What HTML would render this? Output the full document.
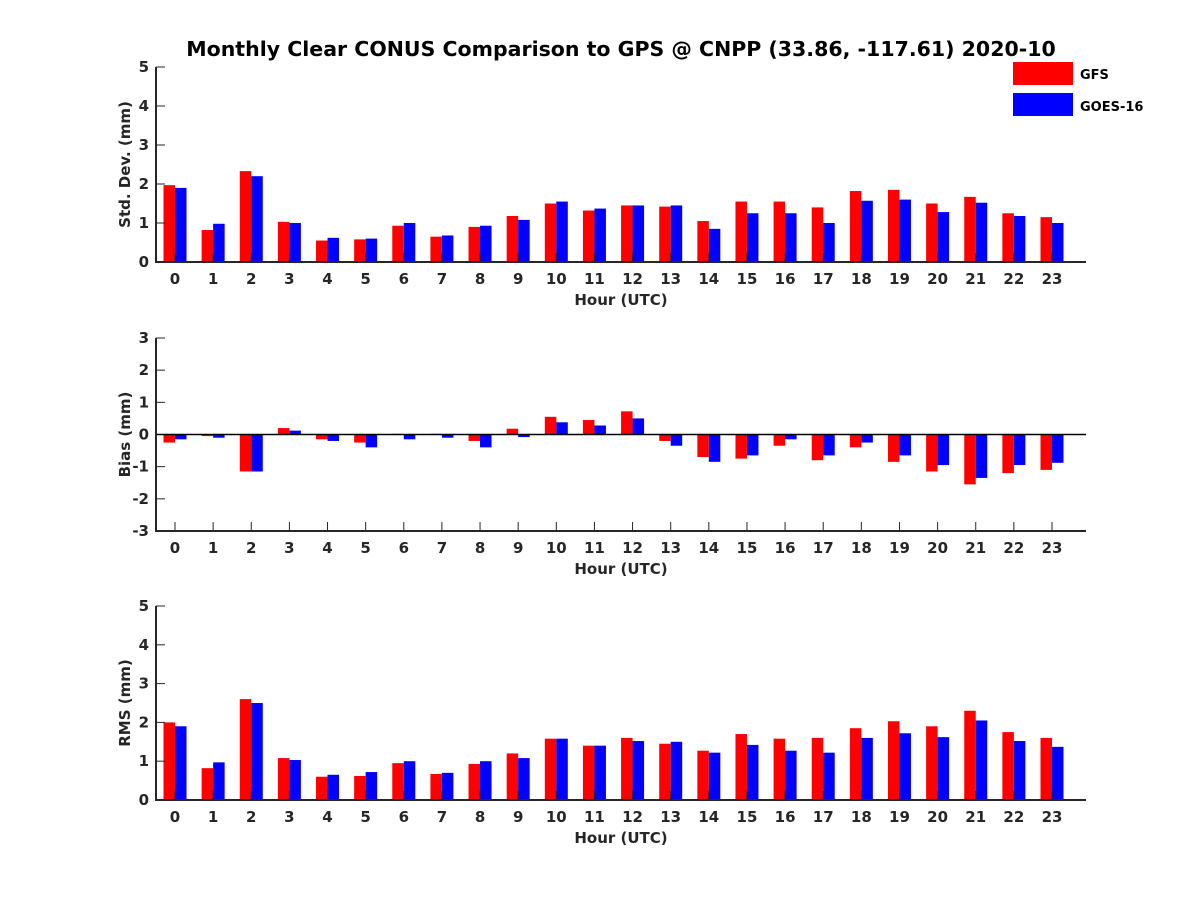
<!DOCTYPE html>
<html><head><meta charset="utf-8"><style>
body{margin:0;background:#fff;}
svg{display:block;font-family:"DejaVu Sans","Liberation Sans",sans-serif;font-weight:bold;}
</style></head><body>
<svg id="chart" width="1200" height="900" viewBox="0 0 1200 900" xmlns="http://www.w3.org/2000/svg">
<rect width="1200" height="900" fill="#fff"/>
<text x="621" y="56" text-anchor="middle" font-size="20.5" fill="#000">Monthly Clear CONUS Comparison to GPS @ CNPP (33.86, -117.61) 2020-10</text>
<g>
<rect x="1013" y="62" width="60" height="23" fill="#ff0000"/>
<text x="1080" y="79" font-size="13" fill="#000">GFS</text>
<rect x="1013" y="93" width="60" height="23" fill="#0000ff"/>
<text x="1080" y="111" font-size="13" fill="#000">GOES-16</text>
</g>
</svg>
<script>
const hours = [0,1,2,3,4,5,6,7,8,9,10,11,12,13,14,15,16,17,18,19,20,21,22,23];
const stdGFS = [1.97,0.82,2.33,1.03,0.55,0.58,0.93,0.65,0.9,1.18,1.5,1.32,1.45,1.42,1.05,1.55,1.55,1.4,1.82,1.85,1.5,1.67,1.25,1.15];
const stdGOES = [1.9,0.98,2.2,1.0,0.62,0.6,1.0,0.68,0.93,1.08,1.55,1.37,1.45,1.45,0.85,1.25,1.25,1.0,1.57,1.6,1.28,1.52,1.18,1.0];
const biasGFS = [-0.25,-0.05,-1.15,0.2,-0.15,-0.25,0.02,0.02,-0.2,0.18,0.55,0.45,0.72,-0.2,-0.7,-0.75,-0.35,-0.8,-0.4,-0.85,-1.15,-1.55,-1.2,-1.1];
const biasGOES = [-0.15,-0.1,-1.15,0.12,-0.2,-0.4,-0.15,-0.1,-0.4,-0.08,0.38,0.28,0.5,-0.35,-0.85,-0.65,-0.15,-0.65,-0.25,-0.65,-0.95,-1.35,-0.95,-0.88];
const rmsGFS = [2.0,0.82,2.6,1.08,0.6,0.62,0.95,0.67,0.93,1.2,1.58,1.4,1.6,1.45,1.27,1.7,1.58,1.6,1.85,2.03,1.9,2.3,1.75,1.6];
const rmsGOES = [1.9,0.97,2.5,1.03,0.65,0.72,1.0,0.7,1.0,1.08,1.58,1.4,1.52,1.5,1.22,1.42,1.27,1.22,1.6,1.72,1.62,2.05,1.52,1.37];
const stdTicks = [0,1,2,3,4,5];
const biasTicks = [-3,-2,-1,0,1,2,3];
const rmsTicks = [0,1,2,3,4,5];

const NS = 'http://www.w3.org/2000/svg';
const svg = document.getElementById('chart');
function mk(tag, attrs){const e=document.createElementNS(NS,tag);for(const k in attrs)e.setAttribute(k,attrs[k]);return e;}
const X0 = 156, X1 = 1086;
function xs(h){return 175 + h*(1052-175)/23;}
const BW = 11.5;

function panel(key, top, bottom, ymin, ymax, ticks, gfs, goes, ylabel){
  const g = mk('g',{});
  
  
  svg.appendChild(g);
  const ys = v => bottom - (v-ymin)/(ymax-ymin)*(bottom-top);
  const base = ys(Math.max(ymin,0));
  hours.forEach((h,i)=>{
    const cx = xs(h);
    [[gfs[i],'#ff0000',cx-BW,'gfs'],[goes[i],'#0000ff',cx,'goes16']].forEach(([v,c,x,s])=>{
      const y = ys(v);
      const r = mk('rect',{x:x,y:Math.min(y,base),width:BW,height:Math.max(Math.abs(base-y),0.5),fill:c});
      
      
      g.appendChild(r);
    });
    const t = mk('text',{x:cx,y:bottom+22,'text-anchor':'middle','font-size':15,fill:'#262626'});
    t.textContent = h;
    
    
    g.appendChild(t);
    g.appendChild(mk('line',{x1:cx,x2:cx,y1:bottom,y2:bottom-9,stroke:'#262626','stroke-width':1}));
  });
  ticks.forEach(v=>{
    const y = ys(v);
    const t = mk('text',{x:X0-7,y:y+5,'text-anchor':'end','font-size':15,fill:'#262626'});
    t.textContent = v;
    
    
    g.appendChild(t);
    g.appendChild(mk('line',{x1:X0,x2:X0+9,y1:y,y2:y,stroke:'#262626','stroke-width':1}));
  });
  if(ymin<0){
    g.appendChild(mk('line',{x1:X0,x2:X1,y1:ys(0),y2:ys(0),stroke:'#000','stroke-width':1.5}));
  }
  const ax = mk('path',{d:`M${X0} ${top} V${bottom} H${X1}`,fill:'none',stroke:'#262626','stroke-width':2});
  
  
  g.appendChild(ax);
  const xl = mk('text',{x:621,y:bottom+43,'text-anchor':'middle','font-size':15,fill:'#262626'});
  xl.textContent = 'Hour (UTC)';
  
  
  g.appendChild(xl);
  const cy = (top+bottom)/2;
  const yl = mk('text',{x:130,y:cy,'text-anchor':'middle','font-size':15,fill:'#262626',transform:`rotate(-90 130 ${cy})`});
  yl.textContent = ylabel;
  
  
  g.appendChild(yl);
}
panel('std', 67, 262, 0, 5, stdTicks, stdGFS, stdGOES, 'Std. Dev. (mm)');
panel('bias', 338, 531, -3, 3, biasTicks, biasGFS, biasGOES, 'Bias (mm)');
panel('rms', 606, 800, 0, 5, rmsTicks, rmsGFS, rmsGOES, 'RMS (mm)');
</script>
</body></html>
